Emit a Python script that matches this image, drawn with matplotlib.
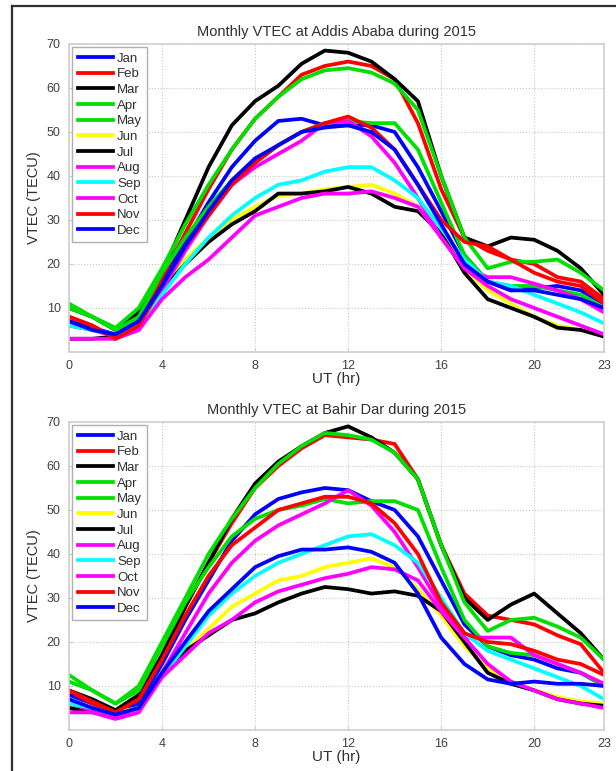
import numpy as np
import matplotlib
matplotlib.use('agg')
import matplotlib.pyplot as plt
from matplotlib.lines import Line2D

plt.rcParams['font.family'] = ['Liberation Sans', 'DejaVu Sans']

hours = np.arange(24)
months = ['Jan', 'Feb', 'Mar', 'Apr', 'May', 'Jun', 'Jul', 'Aug', 'Sep', 'Oct', 'Nov', 'Dec']
colors = ['#0000ff', '#ff0000', '#000000', '#00e000', '#00e000', '#ffff00',
          '#000000', '#ff00ff', '#00ffff', '#ff00ff', '#ff0000', '#0000ff']

# VTEC (TECU) per UT hour, Addis Ababa 2015
addis = {
    'Jan': [7, 5.5, 4, 7, 16, 25, 34, 42, 48, 52.5, 53, 51.5, 51.5, 51.5, 50, 42, 32, 22, 16, 14, 14.5, 15, 14, 11],
    'Feb': [8, 6, 3, 7, 17, 27, 37, 46, 53, 58, 63, 65, 66, 65, 62, 52, 37, 26, 23, 21, 20, 17, 16, 12],
    'Mar': [10, 8, 5, 9, 18, 30, 42, 51.5, 57, 60.5, 65.5, 68.5, 68, 66, 62, 57, 40, 26, 24, 26, 25.5, 23, 19, 13],
    'Apr': [11, 8, 5.5, 10, 19, 29, 38, 46, 53, 58, 62, 64, 64.5, 63.5, 61, 55, 40, 26, 19, 20.5, 20.5, 21, 18, 14],
    'May': [10, 8, 5, 8, 18, 26, 33, 39, 43, 47, 50, 52, 52.5, 52, 52, 46, 34, 22, 16, 15, 15, 14, 13, 10],
    'Jun': [6, 5, 3.5, 6, 14, 21, 26, 30, 33, 35.5, 36, 37, 37.5, 38, 36, 33, 27, 19, 14, 11, 8, 6, 5, 4],
    'Jul': [3, 3, 3.5, 6, 14, 20, 25, 29, 32, 36, 36, 36.5, 37.5, 36, 33, 32, 27, 18, 12, 10, 8, 5.5, 5, 3.5],
    'Aug': [6, 5, 3.5, 5, 14, 23, 31, 38, 42, 45, 48, 52, 52.5, 49, 43, 35, 26, 19, 17, 17, 15.5, 14, 12, 9],
    'Sep': [6, 5, 4, 6, 13, 20, 26, 31, 35, 38, 39, 41, 42, 42, 39, 35, 28, 21, 16, 15, 13, 11, 9, 6.5],
    'Oct': [3, 3, 3, 5, 12, 17, 21, 26, 31, 33, 35, 36, 36, 36.5, 35, 33, 26, 19, 15, 12, 10, 8, 6, 4],
    'Nov': [8, 6, 3, 6, 15, 24, 31, 38, 43, 47, 50, 52, 53.5, 51, 46, 38, 30, 25, 24, 21, 18, 16, 15, 11],
    'Dec': [7, 5, 4, 7, 15, 24, 32, 39, 44, 47, 50, 51, 51.5, 50, 46, 38, 29, 20, 16, 14, 14, 13, 12, 10],
}

# VTEC (TECU) per UT hour, Bahir Dar 2015
bahir = {
    'Jan': [8, 6, 4, 6, 15, 25, 34, 43, 49, 52.5, 54, 55, 54.5, 52, 50, 44, 34, 24, 19, 17, 16, 14, 13, 10],
    'Feb': [9, 6, 4, 7, 17, 28, 38, 47, 55, 60, 64, 67, 66.5, 66, 65, 57, 42, 31, 26, 25, 24, 21.5, 19.5, 13],
    'Mar': [9, 7, 4.5, 8, 17, 28, 38, 48, 56, 61, 64.5, 67.5, 69, 66.5, 63, 57, 42, 30, 25, 28.5, 31, 26.5, 22, 16],
    'Apr': [12.5, 9, 6, 10, 20, 30, 40, 48, 55, 60.5, 64.5, 67.5, 67, 66, 63, 57, 42, 29, 22.5, 25, 25.5, 23.5, 21, 16],
    'May': [11, 9, 6, 9, 19, 29, 37, 44, 48, 50, 51, 52.5, 51.5, 52, 52, 50, 37, 25, 19, 17.5, 17, 15, 13, 10],
    'Jun': [5, 4.5, 4, 5, 12, 18, 23, 28, 31, 34, 35, 37, 38, 39, 37, 32, 26, 19, 14, 11, 9, 7.5, 6.5, 6],
    'Jul': [5, 4, 3.5, 5, 13, 18, 21.5, 25, 26.5, 29, 31, 32.5, 32, 31, 31.5, 30.5, 27, 20, 13, 10.5, 9, 7, 6, 5.5],
    'Aug': [6, 4.5, 3, 5, 13, 22, 31, 38, 43, 46.5, 49, 51.5, 54.5, 51, 45, 37, 28, 21, 21, 21, 17, 15, 13, 10.5],
    'Sep': [6, 5, 3.5, 5, 12, 19, 26, 31, 35, 38, 40, 42, 44, 44.5, 42, 38, 30, 22, 18, 16, 14, 12, 10, 7],
    'Oct': [4, 4, 2.5, 4, 12, 17, 22, 25, 29, 31.5, 33, 34.5, 35.5, 37, 36.5, 34, 27, 21, 15, 11, 9, 7, 6, 5],
    'Nov': [9, 6.5, 4, 7, 16, 26, 35, 42, 46, 50, 51.5, 53, 53, 51.5, 47, 40, 29, 22, 20, 19.5, 18, 16, 15, 12.5],
    'Dec': [7, 5, 3.5, 5, 13, 20, 27, 32, 37, 39.5, 41, 41, 41.5, 40.5, 38, 31, 21, 15, 11.5, 10.5, 11, 10.5, 10.5, 10],
}

xticks = [0, 4, 8, 12, 16, 20, 23]
yticks = [10, 20, 30, 40, 50, 60, 70]

fig = plt.figure(figsize=(6.16, 7.71), dpi=100)

# outer frame (top and left edges visible in the reference)
fig.add_artist(Line2D([12 / 616, 1.0], [1 - 6 / 771, 1 - 6 / 771], transform=fig.transFigure,
                      color='#303030', linewidth=1.6))
fig.add_artist(Line2D([12 / 616, 12 / 616], [0.0, 1 - 6 / 771], transform=fig.transFigure,
                      color='#303030', linewidth=1.6))

panels = [
    (addis, 'Monthly VTEC at Addis Ababa during 2015', [0.112, 0.5435, 0.8685, 0.3995]),
    (bahir, 'Monthly VTEC at Bahir Dar during 2015', [0.112, 0.0532, 0.8685, 0.3995]),
]

for data, title, rect in panels:
    ax = fig.add_axes(rect)
    for m, c in zip(months, colors):
        ax.plot(hours, data[m], color=c, linewidth=2.7, label=m)
    ax.set_xlim(0, 23)
    ax.set_ylim(0, 70)
    ax.set_xticks(xticks)
    ax.set_yticks(yticks)
    ax.grid(True, linestyle=':', color='#c8c8c8', linewidth=0.8)
    ax.tick_params(direction='in', length=3, colors='#c8c8c8', labelcolor='#404040',
                   labelsize=9, pad=6)
    for s in ax.spines.values():
        s.set_color('#d0d0d0')
        s.set_linewidth(1.2)
    ax.set_title(title, fontsize=10.5, color='#303030', pad=6)
    ax.set_xlabel('UT (hr)', fontsize=11, color='#303030', labelpad=0)
    ax.set_ylabel('VTEC (TECU)', fontsize=10.5, color='#303030', labelpad=4)
    leg = ax.legend(loc='upper left', fontsize=9.5, handlelength=2.7, labelspacing=0.26,
                    handletextpad=0.3, borderpad=0.4, borderaxespad=0.25,
                    fancybox=False, framealpha=1)
    leg.get_frame().set_edgecolor('#b0b0b0')
    leg.get_frame().set_linewidth(1.0)
    for t in leg.get_texts():
        t.set_color('#303030')

fig.savefig('out.png', dpi=100)
